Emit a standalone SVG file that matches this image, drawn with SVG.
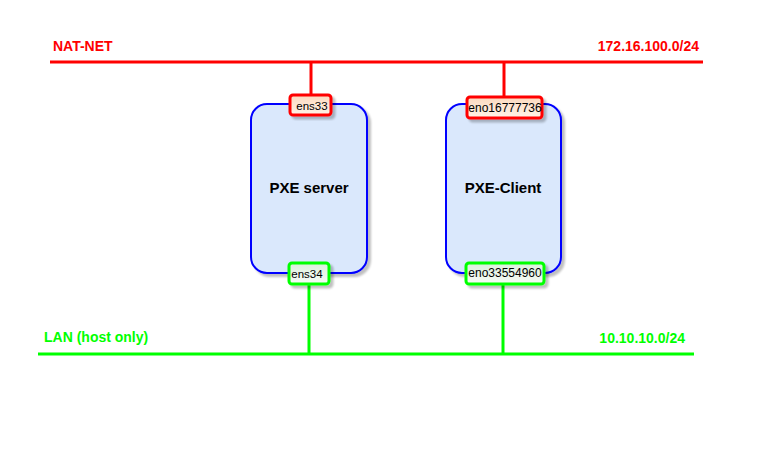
<svg xmlns="http://www.w3.org/2000/svg" width="763" height="454" viewBox="0 0 763 454">
  <defs>
    <linearGradient id="gRed" x1="0" y1="0" x2="0" y2="1">
      <stop offset="0" stop-color="#fbd9bf"/>
      <stop offset="1" stop-color="#fff3e8"/>
    </linearGradient>
    <linearGradient id="gGreen" x1="0" y1="0" x2="0" y2="1">
      <stop offset="0" stop-color="#dcefdc"/>
      <stop offset="1" stop-color="#f7fbf7"/>
    </linearGradient>
    <filter id="sh" x="-20%" y="-20%" width="150%" height="150%">
      <feGaussianBlur in="SourceAlpha" stdDeviation="1"/>
      <feOffset dx="3" dy="3" result="o"/>
      <feComponentTransfer><feFuncA type="linear" slope="0.25"/></feComponentTransfer>
      <feMerge><feMergeNode/><feMergeNode in="SourceGraphic"/></feMerge>
    </filter>
  </defs>
  <style>
    .lbl { font-family: "Liberation Sans", Arial, sans-serif; font-weight: bold; font-size: 14px; }
    .red { fill: #ff0000; }
    .grn { fill: #00ff00; }
    .host { fill: #dae8fc; stroke: #0000ff; stroke-width: 2; }
    .pr { fill: url(#gRed); stroke: #ff0000; stroke-width: 3; }
    .pg { fill: url(#gGreen); stroke: #00ff00; stroke-width: 3; }
    .pt { font-family: "Liberation Sans", Arial, sans-serif; fill: #000; }
    .ht { font-family: "Liberation Sans", Arial, sans-serif; font-weight: bold; font-size: 15px; fill: #000; }
    .wr { stroke: #ff0000; stroke-width: 3; fill: none; }
    .wg { stroke: #00ff00; stroke-width: 3; fill: none; }
  </style>

  <g id="connectors">
    <line class="wr" x1="50" y1="62" x2="703" y2="62"/>
    <line class="wg" x1="38" y1="354" x2="694" y2="354"/>
    <line class="wr" x1="311" y1="62" x2="311" y2="94"/>
    <line class="wr" x1="504" y1="62" x2="504" y2="97"/>
    <line class="wg" x1="309" y1="284" x2="309" y2="354"/>
    <line class="wg" x1="503" y1="284" x2="503" y2="354"/>
  </g>

  <g id="net-labels">
    <text class="lbl red" x="53" y="51">NAT-NET</text>
    <text class="lbl red" x="699" y="51" text-anchor="end">172.16.100.0/24</text>
    <text class="lbl grn" x="44" y="342">LAN (host only)</text>
    <text class="lbl grn" x="685" y="343" text-anchor="end">10.10.10.0/24</text>
  </g>

  <g id="pxe-server">
    <rect class="host" x="251" y="104" width="116" height="169" rx="16" filter="url(#sh)"/>
    <text class="ht" x="309" y="193" text-anchor="middle">PXE server</text>
  </g>
  <g id="pxe-client">
    <rect class="host" x="446" y="104" width="115" height="169" rx="16" filter="url(#sh)"/>
    <text class="ht" x="503" y="193" text-anchor="middle">PXE-Client</text>
  </g>

  <g id="ens33">
    <rect class="pr" x="290" y="95" width="41" height="20" rx="3" filter="url(#sh)"/>
    <text class="pt" x="312" y="110" font-size="11.5" text-anchor="middle">ens33</text>
  </g>
  <g id="eno16777736">
    <rect class="pr" x="467" y="97" width="75" height="21" rx="3" filter="url(#sh)"/>
    <text class="pt" x="505" y="112" font-size="12" text-anchor="middle">eno16777736</text>
  </g>
  <g id="ens34">
    <rect class="pg" x="289" y="263" width="40" height="21" rx="3" filter="url(#sh)"/>
    <text class="pt" x="307" y="278" font-size="11.5" text-anchor="middle">ens34</text>
  </g>
  <g id="eno33554960">
    <rect class="pg" x="466" y="263" width="78" height="21" rx="3" filter="url(#sh)"/>
    <text class="pt" x="505" y="277" font-size="12" text-anchor="middle">eno33554960</text>
  </g>
</svg>
